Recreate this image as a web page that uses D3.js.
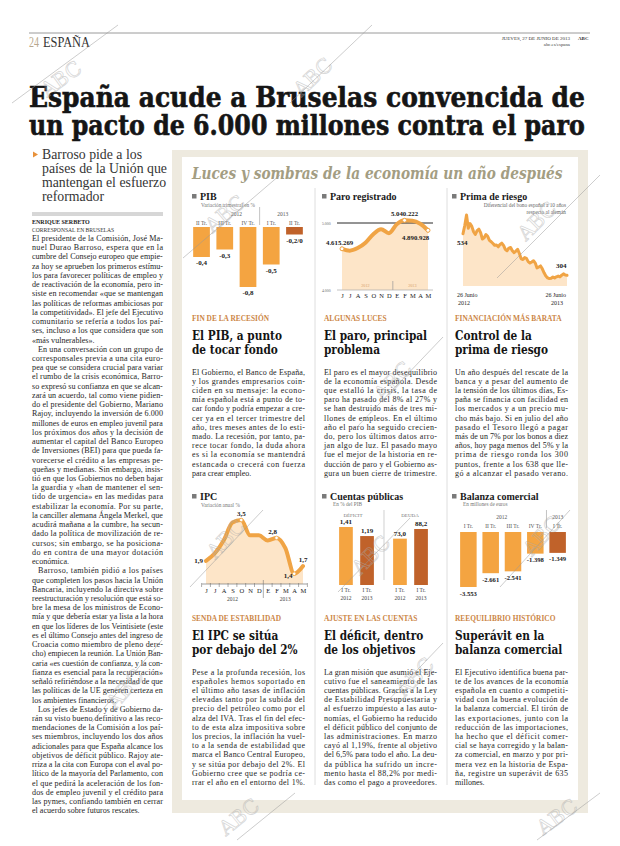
<!DOCTYPE html>
<html><head><meta charset="utf-8">
<script src="https://cdn.jsdelivr.net/npm/d3@7/dist/d3.min.js"></script>
<style>html,body{margin:0;padding:0;background:#fff;}svg{display:block;}</style>
</head><body>
<svg id="c" width="620" height="846"></svg>
<script>
// ---------------- DATA ----------------
const pibQuarters = ["II Tr.","III Tr.","IV Tr.","I Tr.","II Tr."];
const pibValues = [-0.4,-0.3,-0.8,-0.5,-0.1];
const pibLabels = ["-0,4","-0,3","-0,8","-0,5","-0,2/0"];
const pibYears = ["2012","2013"];

const months = ["J","J","A","S","O","N","D","E","F","M","A","M"];
const paroValues = [4615269,4587455,4625634,4705279,4833521,4907817,4848723,4980778,5040222,5035243,4989193,4890928];
const paroLabels = ["4.615.269","5.040.222","4.890.928"];
const paroTicks = ["5.000","4.000"];

const primaValues = [534,580,638,565,590,575,545,530,552,560,540,505,512,530,520,498,490,480,470,472,462,475,482,470,448,440,455,458,440,430,438,448,425,395,392,402,398,380,372,378,385,372,345,350,356,340,318,300,290,286,288,295,290,296,300,296,305,312,306,304];
const primaDates = [["26 Junio","2012"],["26 Junio","2013"]];

const ipcValues = [1.9,2.2,2.7,3.4,3.5,2.9,2.9,2.7,2.8,2.4,1.4,1.7];
const ipcLabeled = [0,4,8,10,11];
const ipcLabels = ["1,9","3,5","2,8","1,4","1,7"];
const yearLabels = ["2012","2013"];

const deficitValues = [1.41,1.19];
const deficitLabels = ["1,41","1,19"];
const deudaValues = [73.0,88.2];
const deudaLabels = ["73,0","88,2"];
const cuentasPeriods = ["I Tr.","I Tr."];

const balanzaQuarters = ["I Tr.","II Tr.","III Tr.","IV Tr.","I Tr."];
const balanzaValues = [-3553,-2661,-2541,-1398,-1349];
const balanzaLabels = ["-3.553","-2.661","-2.541","-1.398","-1.349"];

// ---------------- TEXTS ----------------
const leftBody = [
"El presidente de la Comisión, José Ma-","nuel Durao Barroso, espera que en la","cumbre del Consejo europeo que empie-","za hoy se aprueben los primeros estímu-","los para favorecer políticas de empleo y","de reactivación de la economía, pero in-","siste en recomendar «que se mantengan","las políticas de reformas ambiciosas por","la competitividad». El jefe del Ejecutivo","comunitario se refería a todos los paí-","ses, incluso a los que considera que son","«más vulnerables».$",
"^En una conversación con un grupo de","corresponsales previa a una cita euro-","pea que se considera crucial para variar","el rumbo de la crisis económica, Barro-","so expresó su confianza en que se alcan-","zará un acuerdo, tal como viene pidien-","do el presidente del Gobierno, Mariano","Rajoy, incluyendo la inversión de 6.000","millones de euros en empleo juvenil para","los próximos dos años y la decisión de","aumentar el capital del Banco Europeo","de Inversiones (BEI) para que pueda fa-","vorecerse el crédito a las empresas pe-","queñas y medianas. Sin embargo, insis-","tió en que los Gobiernos no deben bajar","la guardia y «han de mantener el sen-","tido de urgencia» en las medidas para","estabilizar la economía. Por su parte,","la canciller alemana Ángela Merkel, que","acudirá mañana a la cumbre, ha secun-","dado la política de movilización de re-","cursos; sin embargo, se ha posiciona-","do en contra de una mayor dotación","económica.$",
"^Barroso, también pidió a los países","que completen los pasos hacia la Unión","Bancaria, incluyendo la directiva sobre","reestructuración y resolución que está so-","bre la mesa de los ministros de Econo-","mía y que debería estar ya lista a la hora","en que los líderes de los Veintisiete (este","es el último Consejo antes del ingreso de","Croacia como miembro de pleno dere-","cho) empiecen la reunión. La Unión Ban-","caria «es cuestión de confianza, y la con-","fianza es esencial para la recuperación»","señaló refiriéndose a la necesidad de que","las políticas de la UE generen certeza en","los ambientes financieros.$",
"^Los jefes de Estado y de Gobierno da-","rán su visto bueno definitivo a las reco-","mendaciones de la Comisión a los paí-","ses miembros, incluyendo los dos años","adicionales para que España alcance los","objetivos de déficit público. Rajoy ate-","rriza a la cita con Europa con el aval po-","lítico de la mayoría del Parlamento, con","el que pedirá la aceleración de los fon-","dos de empleo juvenil y el crédito para","las pymes, confiando también en cerrar","el acuerdo sobre futuros rescates.$"
];
const sections = [
 {kicker:"FIN DE LA RECESIÓN", head:["El PIB, a punto","de tocar fondo"], body:["El Gobierno, el Banco de España,","y los grandes empresarios coin-","ciden en su mensaje: la econo-","mía española está a punto de to-","car fondo y podría empezar a cre-","cer ya en el tercer trimestre del","año, tres meses antes de lo esti-","mado. La recesión, por tanto, pa-","rece tocar fondo, la duda ahora","es si la economía se mantendrá","estancada o crecerá con fuerza","para crear empleo.$"]},
 {kicker:"ALGUNAS LUCES", head:["El paro, principal","problema"], body:["El paro es el mayor desequilibrio","de la economía española. Desde","que estalló la crisis, la tasa de","paro ha pasado del 8% al 27% y","se han destruido más de tres mi-","llones de empleos. En el último","año el paro ha seguido crecien-","do, pero los últimos datos arro-","jan algo de luz. El pasado mayo","fue el mejor de la historia en re-","ducción de paro y el Gobierno as-","gura un buen cierre de trimestre."]},
 {kicker:"FINANCIACIÓN MÁS BARATA", head:["Control de la","prima de riesgo"], body:["Un año después del rescate de la","banca y a pesar del aumento de","la tensión de los últimos días, Es-","paña se financia con facilidad en","los mercados y a un precio mu-","cho más bajo. Si en julio del año","pasado el Tesoro llegó a pagar","más de un 7% por los bonos a diez","años, hoy paga menos del 5% y la","prima de riesgo ronda los 300","puntos, frente a los 638 que lle-","gó a alcanzar el pasado verano."]},
 {kicker:"SENDA DE ESTABILIDAD", head:["El IPC se sitúa","por debajo del 2%"], body:["Pese a la profunda recesión, los","españoles hemos soportado en","el último año tasas de inflación","elevadas tanto por la subida del","precio del petróleo como por el","alza del IVA. Tras el fin del efec-","to de esta alza impositiva sobre","los precios, la inflación ha vuel-","to a la senda de estabilidad que","marca el Banco Central Europeo,","y se sitúa por debajo del 2%. El","Gobierno cree que se podría ce-","rrar el año en el entorno del 1%."]},
 {kicker:"AJUSTE EN LAS CUENTAS", head:["El déficit, dentro","de los objetivos"], body:["La gran misión que asumió el Eje-","cutivo fue el saneamiento de las","cuentas públicas. Gracias a la Ley","de Estabilidad Presupuestaria y","al esfuerzo impuesto a las auto-","nomías, el Gobierno ha reducido","el déficit público del conjunto de","las administraciones. En marzo","cayó al 1,19%, frente al objetivo","del 6,5% para todo el año. La deu-","da pública ha sufrido un incre-","mento hasta el 88,2% por medi-","das como el pago a proveedores."]},
 {kicker:"REEQUILIBRIO HISTÓRICO", head:["Superávit en la","balanza comercial"], body:["El Ejecutivo identifica buena par-","te de los avances de la economía","española en cuanto a competiti-","vidad con la buena evolución de","la balanza comercial. El tirón de","las exportaciones, junto con la","reducción de las importaciones,","ha hecho que el déficit comer-","cial se haya corregido y la balan-","za comercial, en marzo y por pri-","mera vez en la historia de Espa-","ña, registre un superávit de 635","millones.$"]}
];

// ---------------- STYLE ----------------
const SERIF = "'Liberation Serif','Times New Roman',serif";
const HEAVY = "'DejaVu Serif',serif";
const LIGHT = "#f4a441", DARK = "#c0622a", LINE = "#f0a445", AREA = "#fde5c8";
const KICK = "#cc8646";

const svg = d3.select("#c");
svg.append("rect").attr("width",620).attr("height",846).attr("fill","#fff");

function txt(g, s, x, y, o={}) {
  const t = g.append("text").attr("x",x).attr("y",y).text(s)
    .attr("font-family", o.ff||SERIF).attr("font-size", o.fs||8)
    .attr("fill", o.fill||"#222");
  if (o.fw) t.attr("font-weight", o.fw);
  if (o.fst) t.attr("font-style", o.fst);
  if (o.anchor) t.attr("text-anchor", o.anchor);
  if (o.stroke) t.attr("stroke", o.stroke).attr("stroke-width", o.sw||0.5);
  return t;
}
function fitText(g, s, x, y, o, target, factor) {
  const gg = g.append("g");
  const t = txt(gg, s, 0, 0, o);
  const n = t.node().getComputedTextLength();
  const k = target ? target/n : factor;
  gg.attr("transform", `translate(${x},${y}) scale(${k},1)`);
  return t;
}
function bodyText(g, lines, x, y0, lh, width, fs) {
  lines.forEach((raw,i)=>{
    let s=raw, indent=0, last=false;
    if (s.startsWith("^")) { s=s.slice(1); indent=6; }
    if (s.endsWith("$")) { s=s.slice(0,-1); last=true; }
    const w = width-indent;
    const gg = g.append("g");
    const t = txt(gg, s, 0, 0, {fs, fill:"#262626"});
    const nat = t.node().getComputedTextLength();
    if (nat > w) { gg.attr("transform",`translate(${x+indent},${y0+i*lh}) scale(${w/nat},1)`); }
    else {
      gg.attr("transform",`translate(${x+indent},${y0+i*lh})`);
      if (!last) t.attr("textLength", w).attr("lengthAdjust","spacing");
    }
  });
}

// ---------------- HEADER ----------------
svg.append("line").attr("x1",29).attr("x2",590).attr("y1",33).attr("y2",33).attr("stroke","#9a9a9a").attr("stroke-width",1);
fitText(svg,"24",29,47,{fs:14,fill:"#b8a78c"},10);
fitText(svg,"ESPAÑA",43,47,{fs:14,fill:"#333"},47);
txt(svg,"JUEVES, 27 DE JUNIO DE 2013",570,40,{fs:5,fill:"#333",anchor:"end"});
txt(svg,"ABC",578,40,{fs:5,fill:"#333",fw:"bold"});
txt(svg,"abc.es/espana",570,46,{fs:4.8,fill:"#444",anchor:"end"});

fitText(svg,"España acude a Bruselas convencida de",29,107,{ff:HEAVY,fs:27,fw:"bold",fill:"#151515",stroke:"#151515",sw:0.6},556);
fitText(svg,"un pacto de 6.000 millones contra el paro",29,135,{ff:HEAVY,fs:27,fw:"bold",fill:"#151515",stroke:"#151515",sw:0.6},556);

// ---------------- LEFT COLUMN ----------------
svg.append("path").attr("d","M33,151.5L38,154.5L33,157.5Z").attr("fill","#e8913a");
["Barroso pide a los","países de la Unión que","mantengan el esfuerzo","reformador"].forEach((s,i)=>
  txt(svg,s,42,159+i*14,{fs:13.8,fill:"#353535"}));
svg.append("line").attr("x1",32).attr("x2",163).attr("y1",213).attr("y2",213).attr("stroke","#999").attr("stroke-width",0.8);
svg.append("line").attr("x1",32).attr("x2",163).attr("y1",215).attr("y2",215).attr("stroke","#999").attr("stroke-width",0.8);
txt(svg,"ENRIQUE SERBETO",32,223.5,{fs:6,fw:"bold",fill:"#222"});
txt(svg,"CORRESPONSAL EN BRUSELAS",32,231.5,{fs:5.6,fill:"#333"});
bodyText(svg,leftBody,32,241,9.23,131,8.1);

// ---------------- PANEL ----------------
svg.append("rect").attr("x",172).attr("y",150).attr("width",416).attr("height",663).attr("fill","#eeeadf");
svg.append("rect").attr("x",182).attr("y",157).attr("width",396).attr("height",643).attr("fill","#fff");
fitText(svg,"Luces y sombras de la economía un año después",192,179,{ff:HEAVY,fs:17.5,fw:"bold",fst:"italic",fill:"#a39d82"},371);
[315,447].forEach(x=>svg.append("line").attr("x1",x).attr("x2",x).attr("y1",188).attr("y2",785).attr("stroke","#d6d6d6").attr("stroke-width",0.8));

function chartTitle(x,y,s){
  svg.append("rect").attr("x",x).attr("y",y-6).attr("width",4.5).attr("height",4.5).attr("fill","#7a7a7a");
  txt(svg,s,x+8,y,{fs:10,fw:"bold",fill:"#1a1a1a"});
}
function small(x,y,s,o={}){ return txt(svg,s,x,y,Object.assign({fs:5.3,fill:"#777"},o)); }
function num(x,y,s,o={}){ return txt(svg,s,x,y,Object.assign({fs:7,fw:"bold",fill:"#1a1a1a",anchor:"middle"},o)); }

// ---- PIB ----
chartTitle(192,200,"PIB");
small(201,206.5,"Variación trimestral en %");
const pibX = d3.scaleBand().domain(d3.range(pibValues.length)).range([192,304]).paddingInner(0.28).paddingOuter(0.05);
const pibY = d3.scaleLinear().domain([-0.8,0]).range([287,227]);
const pbw = pibX.bandwidth();
svg.append("g").selectAll("rect").data(pibValues).join("rect")
  .attr("x",(d,i)=>pibX(i)).attr("width",pbw).attr("y",pibY(0)).attr("height",d=>pibY(d)-pibY(0))
  .attr("fill",(d,i)=>i===pibValues.length-1?DARK:LIGHT);
pibQuarters.forEach((q,i)=>small(pibX(i)+pbw/2,225,q,{anchor:"middle",fill:"#555",fs:5.5}));
pibLabels.forEach((l,i)=>num(pibX(i)+pbw/2,pibY(pibValues[i])+8,l));
small((pibX(1)+pibX(2)+pbw)/2,216,pibYears[0],{anchor:"middle",fill:"#555",fs:5.5});
small((pibX(3)+pibX(4)+pbw)/2,216,pibYears[1],{anchor:"middle",fill:"#555",fs:5.5});
const pibSep = (pibX(2)+pbw+pibX(3))/2;
svg.append("line").attr("x1",pibSep).attr("x2",pibSep).attr("y1",207).attr("y2",225).attr("stroke","#aaa").attr("stroke-width",0.7);

// ---- PARO ----
chartTitle(322,200,"Paro registrado");
const paroX = d3.scalePoint().domain(d3.range(paroValues.length)).range([342,428]);
const paroY = d3.scaleLinear().domain([4000000,5000000]).range([290,223]);
const paroG = svg.append("g");
paroG.append("path").datum(paroValues)
  .attr("d",d3.area().x((d,i)=>paroX(i)).y0(paroY(4000000)).y1(d=>paroY(d)).curve(d3.curveMonotoneX))
  .attr("fill",AREA);
paroG.append("line").attr("x1",337).attr("x2",433).attr("y1",paroY(5000000)).attr("y2",paroY(5000000)).attr("stroke","#111").attr("stroke-width",0.9);
small(322,paroY(5000000)+1.5,paroTicks[0],{fs:3.8,fill:"#666"});
small(322,paroY(4000000)+1.5,paroTicks[1],{fs:3.8,fill:"#666"});
const paroSep=(paroX(6)+paroX(7))/2;
paroG.append("line").attr("x1",paroSep).attr("x2",paroSep).attr("y1",281).attr("y2",290).attr("stroke","#999").attr("stroke-width",0.7);
small(paroX(3),286.5,yearLabels[0],{fs:4.2,fill:"#d5a06a",anchor:"middle"});
small(paroX(9),286.5,yearLabels[1],{fs:4.2,fill:"#d5a06a",anchor:"middle"});
paroG.append("path").datum(paroValues)
  .attr("d",d3.line().x((d,i)=>paroX(i)).y(d=>paroY(d)).curve(d3.curveMonotoneX))
  .attr("fill","none").attr("stroke",LINE).attr("stroke-width",4).attr("stroke-linecap","round");
[0,8,11].forEach(i=>paroG.append("circle").attr("cx",paroX(i)).attr("cy",paroY(paroValues[i])).attr("r",2).attr("fill","#fff").attr("stroke",LINE).attr("stroke-width",1));
paroG.append("g").attr("transform",`translate(0,${paroY(4000000)})`)
  .call(d3.axisBottom(paroX).tickSize(0).tickPadding(3).tickFormat(i=>months[i]))
  .call(g=>{g.select(".domain").attr("d","M337,0H433").attr("stroke","#aaa").attr("stroke-width",0.7);
            g.selectAll("text").attr("font-family",SERIF).attr("font-size",6.5).attr("fill","#222");});
num(326,245,paroLabels[0],{anchor:"start",fs:6.8});
num(paroX(8),215.5,paroLabels[1],{fs:6.8});
num(402,240,paroLabels[2],{anchor:"start",fs:6.8});

// ---- PRIMA ----
chartTitle(452,200,"Prima de riesgo");
small(566,207,"Diferencial del bono español a 10 años",{anchor:"end",fill:"#666"});
small(566,213.5,"respecto al alemán",{anchor:"end",fill:"#666"});
const primaX = d3.scaleLinear().domain([0,primaValues.length-1]).range([463,567]);
const primaY = d3.scaleLinear().domain([245,638]).range([286,215]);
svg.append("path").datum(primaValues)
  .attr("d",d3.area().x((d,i)=>primaX(i)).y0(primaY(245)).y1(d=>primaY(d)))
  .attr("fill",AREA);
svg.append("path").datum(primaValues)
  .attr("d",d3.line().x((d,i)=>primaX(i)).y(d=>primaY(d)))
  .attr("fill","none").attr("stroke",LINE).attr("stroke-width",3).attr("stroke-linejoin","round").attr("stroke-linecap","round");
num(457,245,String(primaValues[0]),{anchor:"start"});
num(556,268,String(primaValues[primaValues.length-1]),{anchor:"start"});
txt(svg,primaDates[0][0],457,297,{fs:6,fill:"#222"});
txt(svg,primaDates[0][1],458,305,{fs:6,fill:"#222"});
txt(svg,primaDates[1][0],566,297,{fs:6,fill:"#222",anchor:"end"});
txt(svg,primaDates[1][1],563,305,{fs:6,fill:"#222",anchor:"end"});

// ---- IPC ----
chartTitle(192,500,"IPC");
small(201,507,"Variación anual %");
const ipcX = d3.scalePoint().domain(d3.range(ipcValues.length)).range([206,303]);
const ipcY = d3.scaleLinear().domain([1,3.5]).range([584,520]);
svg.append("path").datum(ipcValues)
  .attr("d",d3.area().x((d,i)=>ipcX(i)).y0(ipcY(1)).y1(d=>ipcY(d)).curve(d3.curveMonotoneX))
  .attr("fill",AREA);
svg.append("path").datum(ipcValues)
  .attr("d",d3.line().x((d,i)=>ipcX(i)).y(d=>ipcY(d)).curve(d3.curveMonotoneX))
  .attr("fill","none").attr("stroke",LINE).attr("stroke-width",4).attr("stroke-linecap","round").attr("stroke-linejoin","round");
[4,8,10].forEach(i=>svg.append("circle").attr("cx",ipcX(i)).attr("cy",ipcY(ipcValues[i])).attr("r",1.8).attr("fill","#fff").attr("stroke",LINE).attr("stroke-width",0.8));
svg.append("g").attr("transform",`translate(0,${ipcY(1)})`)
  .call(d3.axisBottom(ipcX).tickSize(0).tickPadding(4).tickFormat(i=>months[i]))
  .call(g=>{g.select(".domain").attr("d","M202,0H307").attr("stroke","#777").attr("stroke-width",0.7);
            g.selectAll("text").attr("font-family",SERIF).attr("font-size",6.5).attr("fill","#222");});
const ipcStep = ipcX.step();
d3.range(ipcValues.length+1).forEach(i=>{
  const x = ipcX(0)-ipcStep/2+i*ipcStep;
  const tall = (i===7);
  svg.append("line").attr("x1",x).attr("x2",x).attr("y1",tall?580:583).attr("y2",tall?598:587).attr("stroke","#777").attr("stroke-width",0.6);
});
small(ipcX(3),600.5,yearLabels[0],{anchor:"middle",fill:"#444",fs:5.5});
small(ipcX(9),600.5,yearLabels[1],{anchor:"middle",fill:"#444",fs:5.5});
const ipcLabelPos = [[-3,2,"end"],[0,-4,"middle"],[-4,-4,"middle"],[-6,4,"middle"],[0,-4,"middle"]];
ipcLabeled.forEach((idx,k)=>{
  const p=ipcLabelPos[k];
  num(ipcX(idx)+p[0],ipcY(ipcValues[idx])+p[1],ipcLabels[k],{anchor:p[2]});
});

// ---- CUENTAS ----
chartTitle(322,500,"Cuentas públicas");
small(333,506,"En % del PIB");
const base = 585;
const defX = d3.scaleBand().domain([0,1]).range([337,376]).paddingInner(0.35).paddingOuter(0.1);
const deuX = d3.scaleBand().domain([0,1]).range([391,430]).paddingInner(0.35).paddingOuter(0.1);
const defY = d3.scaleLinear().domain([0,1.41]).range([base,527]);
const deuY = d3.scaleLinear().domain([0,88.2]).range([base,529]);
[[defX,defY,deficitValues,deficitLabels],[deuX,deuY,deudaValues,deudaLabels]].forEach(([X,Y,vals,labs])=>{
  svg.append("g").selectAll("rect").data(vals).join("rect")
    .attr("x",(d,i)=>X(i)).attr("width",X.bandwidth()).attr("y",d=>Y(d)).attr("height",d=>base-Y(d))
    .attr("fill",(d,i)=>i?DARK:LIGHT);
  labs.forEach((l,i)=>num(X(i)+X.bandwidth()/2,Y(vals[i])-3,l));
  cuentasPeriods.forEach((p,i)=>{
    small(X(i)+X.bandwidth()/2,592,p,{anchor:"middle",fill:"#444",fs:5.5});
    small(X(i)+X.bandwidth()/2,599.5,yearLabels[i],{anchor:"middle",fill:"#444",fs:5.5});
  });
});
small(353,517,"DÉFICIT",{anchor:"middle",fill:"#777",fs:5});
small(410,517,"DEUDA",{anchor:"middle",fill:"#777",fs:5});
svg.append("line").attr("x1",384).attr("x2",384).attr("y1",510).attr("y2",580).attr("stroke","#bbb").attr("stroke-width",0.7);

// ---- BALANZA ----
chartTitle(452,500,"Balanza comercial");
small(463,506,"En millones de euros");
const balX = d3.scaleBand().domain(d3.range(balanzaValues.length)).range([459,567]).paddingInner(0.26).paddingOuter(0.05);
const balY = d3.scaleLinear().domain([-3553,0]).range([587,532]);
const bbw = balX.bandwidth();
svg.append("g").selectAll("rect").data(balanzaValues).join("rect")
  .attr("x",(d,i)=>balX(i)).attr("width",bbw).attr("y",balY(0)).attr("height",d=>balY(d)-balY(0))
  .attr("fill",(d,i)=>i===balanzaValues.length-1?DARK:LIGHT);
balanzaQuarters.forEach((q,i)=>small(balX(i)+bbw/2,527.5,q,{anchor:"middle",fill:"#555",fs:5.5}));
balanzaLabels.forEach((l,i)=>num(balX(i)+bbw/2,balY(balanzaValues[i])+8.5,l,{fs:6.6}));
small((balX(0)+balX(3)+bbw)/2,518.5,yearLabels[0],{anchor:"middle",fill:"#555",fs:5.5});
small(balX(4)+bbw/2,518.5,yearLabels[1],{anchor:"middle",fill:"#555",fs:5.5});
const balSep=(balX(3)+bbw+balX(4))/2;
svg.append("line").attr("x1",balSep).attr("x2",balSep).attr("y1",510).attr("y2",528).attr("stroke","#aaa").attr("stroke-width",0.7);

// ---------------- SECTION TEXTS ----------------
const colX = [192,324,455];
sections.forEach((s,k)=>{
  const x = colX[k%3];
  const row = Math.floor(k/3);
  const ky = row? 621:321, hy = row? 640:340, by = row? 674.5:374.5;
  txt(svg,s.kicker,x,ky,{fs:7.4,fw:"bold",fill:KICK});
  s.head.forEach((h,i)=>{
    fitText(svg,h,x,hy+i*13.8,{ff:HEAVY,fs:13.2,fw:"bold",fill:"#141414"},null,0.8);
  });
  bodyText(svg,s.body,x,by,9.2,113,8);
});

// ---------------- WATERMARKS ----------------
const wmLayout = [
 [12,103,118,25,62,80],[290,103,372,25,314,78],[183,258,280,175,226,215],[497,278,600,175,538,222],
 [357,427,443,337,394,382],[190,587,263,510,227,540],[338,592,410,518,372,556],[500,587,570,510,543,537],
 [92,722,162,640,126,690],[357,733,443,643,416,678],[237,840,295,793,240,818],[537,840,600,793,558,818]
];
const wm = svg.append("g").attr("pointer-events","none");
wmLayout.forEach(([x1,y1,x2,y2,cx,cy])=>{
  wm.append("line").attr("x1",x1).attr("y1",y1).attr("x2",x2).attr("y2",y2).attr("stroke","#9a9a9a").attr("stroke-width",0.7).attr("opacity",0.7);
  const a = Math.atan2(y2-y1,x2-x1)*180/Math.PI;
  wm.append("text").attr("x",cx).attr("y",cy).attr("text-anchor","middle").attr("dominant-baseline","middle")
    .attr("transform",`rotate(${a},${cx},${cy})`).attr("font-family",HEAVY).attr("font-size",20)
    .attr("fill","none").attr("stroke","#aaa").attr("stroke-width",0.7).attr("opacity",0.5).text("ABC");
});
</script>
</body></html>
